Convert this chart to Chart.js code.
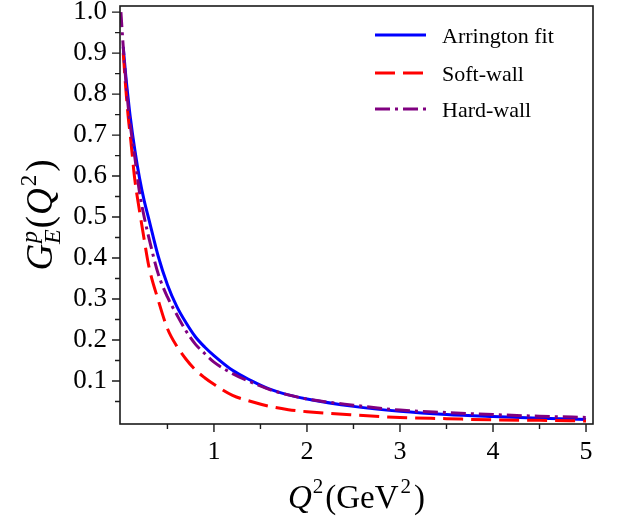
<!DOCTYPE html>
<html>
<head>
<meta charset="utf-8">
<script src="https://cdn.jsdelivr.net/npm/chart.js@4.4.0/dist/chart.umd.min.js"></script>
<style>
  html, body { margin: 0; padding: 0; background: #fff; }
  #wrap { width: 618px; height: 518px; }
</style>
</head>
<body>
<div id="wrap"><canvas id="formFactorChart" width="618" height="518"></canvas></div>
<script>
// Q^2 values (GeV^2)
const qValues = [0, 0.01, 0.025, 0.05, 0.08, 0.1, 0.15, 0.2, 0.25, 0.3, 0.4, 0.5, 0.6, 0.7, 0.8, 0.9,
  1.0, 1.2, 1.4, 1.6, 1.8, 2.0, 2.5, 3.0, 3.5, 4.0, 4.5, 5.0];

const arringtonFit = [null, null, 0.915, 0.85, 0.785, 0.745, 0.663, 0.595, 0.54, 0.495, 0.405, 0.335, 0.282, 0.242, 0.208, 0.183,
  0.162, 0.126, 0.101, 0.080, 0.066, 0.056, 0.038, 0.026, 0.018, 0.013, 0.009, 0.006];

const softWall = [null, null, 0.90, 0.82, 0.74, 0.70, 0.59, 0.515, 0.445, 0.38, 0.298, 0.228, 0.185, 0.153, 0.127, 0.108,
  0.092, 0.065, 0.050, 0.038, 0.030, 0.025, 0.017, 0.011, 0.008, 0.005, 0.004, 0.0025];

const hardWall = [1.0, 0.965, 0.915, 0.84, 0.765, 0.725, 0.645, 0.56, 0.50, 0.45, 0.362, 0.305, 0.262, 0.222, 0.19, 0.167,
  0.146, 0.118, 0.097, 0.079, 0.066, 0.056, 0.041, 0.029, 0.023, 0.018, 0.014, 0.011];

const seriesNames = ['Arrington fit', 'Soft-wall', 'Hard-wall'];

const xTicks = [1, 2, 3, 4, 5];
const xTickLabels = ['1', '2', '3', '4', '5'];
const xMinor = [0.5, 1.5, 2.5, 3.5, 4.5];
const yTicks = [0.1, 0.2, 0.3, 0.4, 0.5, 0.6, 0.7, 0.8, 0.9, 1.0];
const yTickLabels = ['0.1', '0.2', '0.3', '0.4', '0.5', '0.6', '0.7', '0.8', '0.9', '1.0'];
const yMinor = [0.05, 0.15, 0.25, 0.35, 0.45, 0.55, 0.65, 0.75, 0.85, 0.95];

const serif = "'Liberation Serif', 'DejaVu Serif', serif";

function toPoints(ys) {
  return qValues.map((q, i) => ({ x: q, y: ys[i] }));
}

// draws a string made of pieces (italic, sub/superscripts)
function measureRich(ctx, parts) {
  let w = 0, pending = 0;
  parts.forEach(p => {
    ctx.font = (p.it ? 'italic ' : '') + p.size + 'px ' + serif;
    const pw = ctx.measureText(p.t).width + (p.dx || 0);
    if (p.stack) { pending = Math.max(pending, pw); }
    else { w += Math.max(pw, pending); pending = 0; }
  });
  return w + pending;
}

function drawRich(ctx, parts, x, y, angle) {
  ctx.save();
  ctx.translate(x, y);
  ctx.rotate(angle);
  ctx.fillStyle = '#000';
  ctx.textBaseline = 'alphabetic';
  ctx.textAlign = 'left';
  let cx = -measureRich(ctx, parts) / 2, pending = 0;
  parts.forEach(p => {
    ctx.font = (p.it ? 'italic ' : '') + p.size + 'px ' + serif;
    const pw = ctx.measureText(p.t).width + (p.dx || 0);
    ctx.fillText(p.t, cx + (p.dx || 0), p.dy || 0);
    if (p.stack) { pending = Math.max(pending, pw); }
    else { cx += Math.max(pw, pending); pending = 0; }
  });
  ctx.restore();
}

const framePlugin = {
  id: 'frame',
  afterDraw(chart) {
    const ctx = chart.ctx;
    const a = chart.chartArea;
    const xs = chart.scales.x, ys = chart.scales.y;
    ctx.save();
    ctx.strokeStyle = '#1a1a1a';
    ctx.lineWidth = 1.6;
    ctx.strokeRect(a.left, a.top, a.right - a.left, a.bottom - a.top);

    // tick marks
    ctx.lineWidth = 1.4;
    ctx.beginPath();
    yTicks.forEach(v => { const py = ys.getPixelForValue(v); ctx.moveTo(a.left, py); ctx.lineTo(a.left - 8, py); });
    yMinor.forEach(v => { const py = ys.getPixelForValue(v); ctx.moveTo(a.left, py); ctx.lineTo(a.left - 5, py); });
    xTicks.forEach(v => { const px = xs.getPixelForValue(v); ctx.moveTo(px, a.bottom); ctx.lineTo(px, a.bottom + 8); });
    xMinor.forEach(v => { const px = xs.getPixelForValue(v); ctx.moveTo(px, a.bottom); ctx.lineTo(px, a.bottom + 5); });
    ctx.stroke();

    // legend
    const legendY = [35, 73, 109];
    chart.data.datasets.forEach((ds, i) => {
      ctx.beginPath();
      ctx.strokeStyle = ds.borderColor;
      ctx.lineWidth = ds.borderWidth;
      ctx.setLineDash(ds.borderDash || []);
      ctx.moveTo(375, legendY[i]);
      ctx.lineTo(426, legendY[i]);
      ctx.stroke();
      ctx.setLineDash([]);
      ctx.fillStyle = '#000';
      ctx.font = '22px ' + serif;
      ctx.textBaseline = 'middle';
      ctx.textAlign = 'left';
      ctx.fillText(ds.label, 442, legendY[i] + 2);
    });

    // axis titles
    drawRich(ctx, [
      { t: 'Q', it: true, size: 33 },
      { t: '2', size: 21, dy: -15, dx: 1 },
      { t: '(GeV', size: 33, dx: 2 },
      { t: '2', size: 21, dy: -15, dx: 2 },
      { t: ')', size: 33, dx: 3 }
    ], (a.left + a.right) / 2, 508, 0);

    drawRich(ctx, [
      { t: 'G', it: true, size: 37 },
      { t: 'p', it: true, size: 24, dy: -15, dx: 1, stack: true },
      { t: 'E', it: true, size: 24, dy: 8 },
      { t: '(', size: 37, dx: 1 },
      { t: 'Q', it: true, size: 37, dx: 1 },
      { t: '2', size: 23, dy: -16, dx: 2 },
      { t: ')', size: 37, dx: 3 }
    ], 52, (a.top + a.bottom) / 2, -Math.PI / 2);
    ctx.restore();
  }
};

const ctx = document.getElementById('formFactorChart').getContext('2d');

new Chart(ctx, {
  type: 'scatter',
  data: {
    datasets: [
      {
        label: seriesNames[0],
        data: toPoints(arringtonFit),
        borderColor: '#0000ff',
        borderWidth: 3,
        order: 3
      },
      {
        label: seriesNames[1],
        data: toPoints(softWall),
        borderColor: '#ff0000',
        borderWidth: 3,
        borderDash: [20, 8],
        order: 2
      },
      {
        label: seriesNames[2],
        data: toPoints(hardWall),
        borderColor: '#800080',
        borderWidth: 3,
        borderDash: [15, 5, 3, 5],
        order: 1
      }
    ]
  },
  options: {
    responsive: false,
    animation: false,
    showLine: true,
    spanGaps: false,
    elements: {
      point: { radius: 0, hoverRadius: 0 },
      line: { cubicInterpolationMode: 'monotone', fill: false }
    },
    layout: { padding: { top: 6, right: 25, left: 0, bottom: 0 } },
    plugins: {
      legend: { display: false },
      tooltip: { enabled: false }
    },
    scales: {
      x: {
        type: 'linear',
        min: -0.01,
        max: 5.075,
        grid: { display: false, drawTicks: false },
        border: { display: false },
        afterBuildTicks: scale => { scale.ticks = xTicks.map(v => ({ value: v })); },
        afterFit: scale => {
          scale.height = 94;
          scale.paddingLeft = 0; scale.paddingRight = 0;
        },
        ticks: {
          padding: 13,
          color: '#000',
          maxRotation: 0,
          font: { family: serif, size: 26 },
          callback: (v) => xTickLabels[xTicks.indexOf(v)]
        }
      },
      y: {
        type: 'linear',
        min: -0.005,
        max: 1.015,
        grid: { display: false, drawTicks: false },
        border: { display: false },
        afterBuildTicks: scale => { scale.ticks = yTicks.map(v => ({ value: v })); },
        afterFit: scale => {
          scale.width = 120;
          scale.paddingTop = 0; scale.paddingBottom = 0;
        },
        ticks: {
          padding: 13,
          color: '#000',
          font: { family: serif, size: 27 },
          callback: (v) => yTickLabels[yTicks.findIndex(t => Math.abs(t - v) < 1e-9)]
        }
      }
    }
  },
  plugins: [framePlugin]
});
</script>
</body>
</html>
